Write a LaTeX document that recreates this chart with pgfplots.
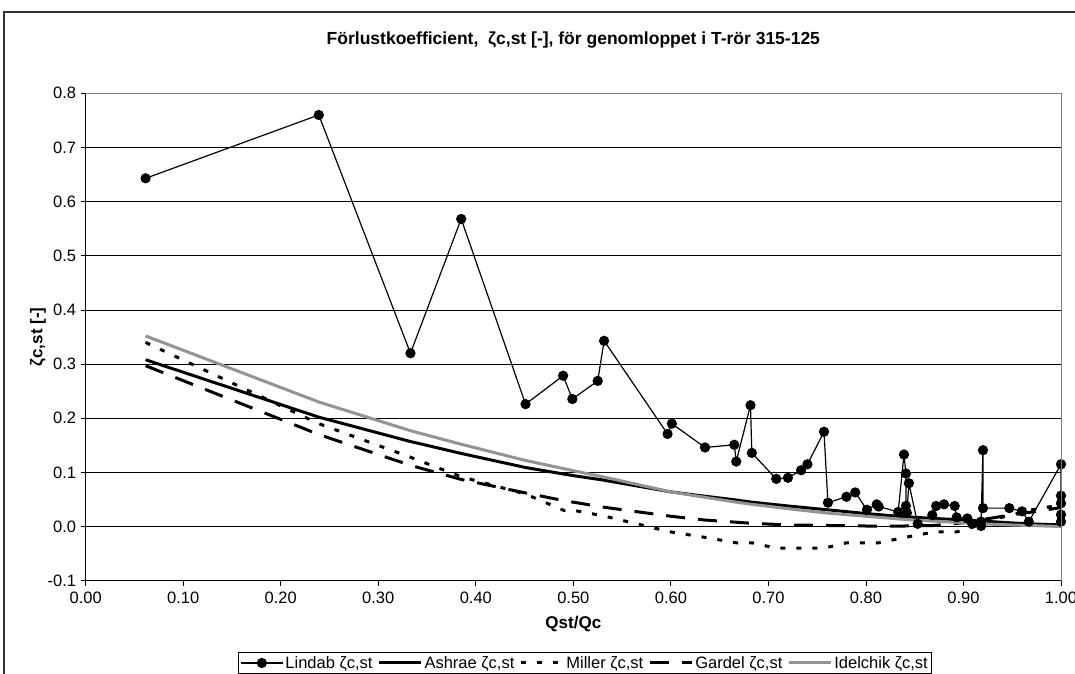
\documentclass[border=0pt]{standalone}
\usepackage{fontspec}
\setmainfont{Liberation Sans}
\usepackage{pgfplots}
\pgfplotsset{compat=1.18}

% Measured loss coefficients (in measurement order)
\pgfplotstableread{
x      y
0.0614 0.643
0.239  0.760
0.333  0.320
0.385  0.568
0.451  0.226
0.4895 0.2785
0.499  0.2355
0.525  0.269
0.5315 0.343
0.5966 0.171
0.601  0.190
0.635  0.146
0.665  0.151
0.667  0.120
0.6816 0.224
0.683  0.136
0.708  0.088
0.720  0.090
0.7335 0.104
0.740  0.115
0.757  0.175
0.761  0.044
0.780  0.055
0.789  0.063
0.801  0.031
0.811  0.041
0.813  0.037
0.833  0.027
0.839  0.133
0.841  0.098
0.841  0.038
0.842  0.025
0.844  0.080
0.853  0.005
0.868  0.021
0.872  0.038
0.880  0.041
0.891  0.038
0.893  0.017
0.904  0.015
0.909  0.005
0.918  0.001
0.918  0.009
0.920  0.141
0.920  0.034
0.947  0.034
0.960  0.028
0.967  0.009
1.000  0.115
1.000  0.057
1.000  0.043
1.000  0.022
1.000  0.009
}\lindab

\pgfplotstableread{
x      ashrae idelchik gardel
0.0614 0.308  0.352    0.297
0.239  0.202  0.230    0.170
0.333  0.157  0.177    0.113
0.385  0.135  0.152    0.087
0.451  0.109  0.122    0.062
0.490  0.097  0.107    0.048
0.500  0.094  0.103    0.045
0.530  0.086  0.092    0.036
0.600  0.064  0.064    0.019
0.635  0.056  0.054    0.012
0.667  0.049  0.045    0.008
0.683  0.045  0.041    0.006
0.720  0.038  0.033    0.003
0.760  0.031  0.025    0.002
0.800  0.024  0.019    0.001
0.840  0.018  0.013    0.001
0.870  0.015  0.010    0.002
0.900  0.012  0.007    0.007
0.920  0.010  0.005    0.013
0.947  0.007  0.003    0.021
0.967  0.005  0.002    0.026
1.000  0.003  0.000    0.035
}\theory

\pgfplotstableread{
x      miller
0.0614 0.340
0.239  0.190
0.333  0.128
0.385  0.092
0.451  0.060
0.490  0.030
0.500  0.030
0.530  0.020
0.600  -0.010
0.635  -0.020
0.667  -0.030
0.683  -0.030
0.708  -0.040
0.757  -0.040
0.780  -0.030
0.813  -0.030
0.840  -0.020
0.870  -0.010
0.893  -0.010
0.910  0.000
0.920  0.010
0.947  0.020
0.967  0.030
1.000  0.040
}\miller

\begin{document}
\begin{tikzpicture}[x=1pt,y=1pt]
\useasboundingbox (0,0) rectangle (1075,673);
\begin{scope}
\clip (0,0) rectangle (1075,673);
% chart frame
\draw[line width=1.3pt, black!80] (4,-5) -- (4,661) -- (1080,661);
\begin{axis}[
  at={(85.7pt,92.3pt)}, anchor=south west,
  scale only axis, width=975.3pt, height=487.4pt,
  xmin=0, xmax=1, ymin=-0.1, ymax=0.8,
  xtick={0,0.1,0.2,0.3,0.4,0.5,0.6,0.7,0.8,0.9,1},
  ytick={-0.1,0,0.1,0.2,0.3,0.4,0.5,0.6,0.7,0.8},
  xtick pos=bottom, ytick pos=left,
  tick align=outside, major tick length=5pt,
  tick style={black, line width=0.8pt},
  ymajorgrids, major grid style={black, line width=0.8pt},
  axis line style={draw=gray, line width=1pt},
  /pgf/number format/assume math mode=true,
  every tick label/.append style={font=\fontsize{16.5}{19}\selectfont, text=black},
  xticklabel style={yshift=-3pt, /pgf/number format/.cd, fixed, fixed zerofill, precision=2},
  yticklabel style={xshift=-1pt, /pgf/number format/.cd, fixed, fixed zerofill, precision=1},
  title={Förlustkoefficient,\ \ ζc,st [-], för genomloppet i T-rör 315-125},
  title style={at={(axis description cs:0.5,1.098)}, anchor=center,
    font=\fontsize{17.5}{20}\selectfont\bfseries},
  xlabel={Qst/Qc},
  xlabel style={at={(axis description cs:0.5,-0.088)}, anchor=center,
    font=\fontsize{17}{20}\selectfont\bfseries},
  ylabel={ζc,st [-]},
  ylabel style={at={(axis description cs:-0.049,0.5)}, anchor=center,
    font=\fontsize{17}{20}\selectfont\bfseries},
  legend columns=5,
  legend style={at={(axis description cs:0.512,-0.146)}, anchor=north,
    draw=black, line width=0.8pt, inner sep=2pt,
    font=\fontsize{16.5}{19}\selectfont,
    /tikz/every odd column/.append style={column sep=0pt},
    /tikz/every even column/.append style={column sep=3pt}},
  legend image code/.code={\draw[mark repeat=2,mark phase=2,#1]
    plot coordinates {(0pt,0pt) (21pt,0pt) (42pt,0pt)};},
  after end axis/.code={
    \draw[gray, line width=1pt] (rel axis cs:0,1) -- (rel axis cs:1,1) -- (rel axis cs:1,0);
    \draw[black, line width=1pt] (rel axis cs:0,1) -- (rel axis cs:0,0) -- (rel axis cs:1,0);
  },
]
\addplot[black, line width=1.2pt, mark=*, mark size=4.5pt,
  mark options={solid, fill=black}] table[x=x, y=y] {\lindab};
\addlegendentry{Lindab ζc,st}
\addplot[black, line width=3pt] table[x=x, y=ashrae] {\theory};
\addlegendentry{Ashrae ζc,st}
\addplot[black, line width=3pt, dash pattern=on 5pt off 11pt] table[x=x, y=miller] {\miller};
\addlegendentry{Miller ζc,st}
\addplot[black, line width=3pt, dash pattern=on 19pt off 13pt] table[x=x, y=gardel] {\theory};
\addlegendentry{Gardel ζc,st}
\addplot[gray!85, line width=3pt] table[x=x, y=idelchik] {\theory};
\addlegendentry{Idelchik ζc,st}
\end{axis}
\end{scope}
\end{tikzpicture}
\end{document}
